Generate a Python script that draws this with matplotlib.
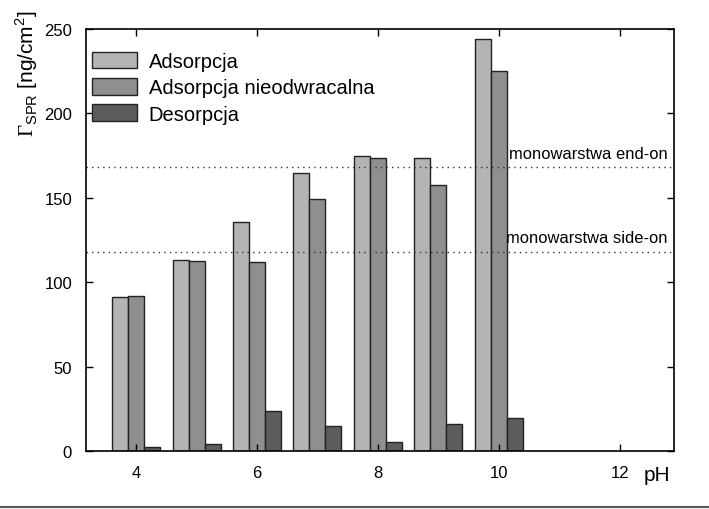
import matplotlib
matplotlib.use('Agg')
import matplotlib.pyplot as plt
from matplotlib.lines import Line2D

plt.rcParams['font.family'] = ['Liberation Sans', 'DejaVu Sans']
plt.rcParams['mathtext.fontset'] = 'custom'
plt.rcParams['mathtext.rm'] = 'Liberation Serif'
plt.rcParams['mathtext.sf'] = 'Liberation Sans'

ph = [4, 5, 6, 7, 8, 9, 10]
adsorpcja = [91, 113, 135.5, 164.5, 174.5, 173.5, 244]
nieodwracalna = [92, 112.5, 112, 149.5, 173.5, 157.5, 225]
desorpcja = [2.5, 4, 23.5, 15, 5.5, 16, 19.5]
end_on = 168
side_on = 118

fig = plt.figure(figsize=(7.09, 5.10), dpi=100)
ax = fig.add_axes([0.1213, 0.1137, 0.8293, 0.8275])

w = 0.265
kw = dict(width=w, edgecolor='#222222', linewidth=1.0)
ax.bar([x - w for x in ph], adsorpcja, color='#b4b4b4', label='Adsorpcja', **kw)
ax.bar(ph, nieodwracalna, color='#8f8f8f', label='Adsorpcja nieodwracalna', **kw)
ax.bar([x + w for x in ph], desorpcja, color='#5c5c5c', label='Desorpcja', **kw)

ax.axhline(end_on, color='#333333', linestyle=(0, (1, 3)), linewidth=1.0)
ax.axhline(side_on, color='#333333', linestyle=(0, (1, 3)), linewidth=1.0)
ax.text(12.8, end_on + 4, 'monowarstwa end-on', ha='right', va='bottom', fontsize=11.9)
ax.text(12.8, side_on + 4, 'monowarstwa side-on', ha='right', va='bottom', fontsize=11.9)

ax.set_xlim(3.17, 12.9)
ax.set_ylim(0, 250)
ax.set_xticks([4, 6, 8, 10, 12])
ax.set_yticks([0, 50, 100, 150, 200, 250])
ax.tick_params(direction='in', length=5, width=1, top=True, right=True,
               labelsize=12, pad=10)
for s in ax.spines.values():
    s.set_linewidth(1.2)

leg = ax.legend(loc='upper left', frameon=False, fontsize=14.5, handlelength=2.2,
                handleheight=0.9, handletextpad=0.6, labelspacing=0.35,
                borderaxespad=0.2, bbox_to_anchor=(-0.01, 0.975))

fig.text(0.927, 0.067, 'pH', fontsize=15, ha='center', va='center')
fig.text(0.038, 1 - 10 / 510, r'$\Gamma_{\mathsf{SPR}}$ [ng/cm$^{\mathsf{2}}$]',
         rotation=90, ha='center', va='top', fontsize=15)

fig.add_artist(Line2D([0, 1], [0.004, 0.004], transform=fig.transFigure,
                      color='#555555', linewidth=1.5))

fig.savefig('out.png', dpi=100)
